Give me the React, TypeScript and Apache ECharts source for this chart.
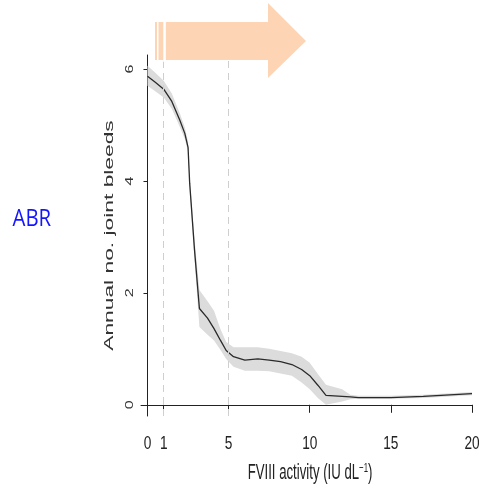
import React, { useEffect, useRef } from "react";
import * as echarts from "echarts";

const xs = [0, 0.5, 1, 1.5, 2, 2.3, 2.5, 2.6, 2.9, 3.2, 3.7, 4.1, 4.5, 4.85, 5.3, 6, 6.8, 7.5, 8.2, 8.9, 9.5, 10, 10.5, 11, 12, 12.5, 13, 15, 17, 20];
const meanVals = [5.87, 5.76, 5.64, 5.42, 5.08, 4.85, 4.6, 3.96, 2.76, 1.72, 1.55, 1.36, 1.15, 0.97, 0.86, 0.8, 0.82, 0.8, 0.77, 0.72, 0.63, 0.52, 0.35, 0.17, 0.15, 0.14, 0.13, 0.13, 0.15, 0.2];
const lowerVals = [5.7, 5.6, 5.49, 5.29, 4.96, 4.75, 4.52, 3.86, 2.6, 1.39, 1.25, 1.15, 0.98, 0.82, 0.68, 0.61, 0.61, 0.6, 0.56, 0.52, 0.4, 0.28, 0.12, 0.0, 0.06, 0.1, 0.11, 0.11, 0.12, 0.17];
const upperVals = [6.06, 5.93, 5.79, 5.56, 5.2, 4.96, 4.7, 4.06, 2.95, 2.05, 1.85, 1.68, 1.35, 1.12, 1.03, 1.03, 1.03, 1.0, 0.96, 0.92, 0.86, 0.75, 0.55, 0.36, 0.28, 0.18, 0.16, 0.16, 0.18, 0.23];
const xTicks = [0, 1, 5, 10, 15, 20];
const yTicks = [0, 2, 4, 6];
const refLines = [1, 5];
const xTitle = "FVIII activity (IU dL";
const yTitle = "Annual no. joint bleeds";
const sideLabel = "ABR";

export default function App() {
  const ref = useRef<HTMLDivElement>(null);
  useEffect(() => {
    if (!ref.current) return;
    const chart = echarts.init(ref.current, null, { renderer: "svg" });
    const sans = "'Liberation Sans', Arial, sans-serif";
    const option: any = {
      animation: false,
      grid: { left: 141, right: 7, top: 55, bottom: 79 },
      xAxis: {
        type: "value",
        min: -0.4,
        max: 20,
        splitLine: { show: false },
        axisLine: { show: true, lineStyle: { color: "#222", width: 1 } },
        axisTick: { show: true, length: 8, customValues: xTicks, lineStyle: { color: "#222" } },
        axisLabel: { show: false },
      },
      yAxis: {
        type: "value",
        min: -0.2,
        max: 6.25,
        splitLine: { show: false },
        axisLine: { show: true, lineStyle: { color: "#222", width: 1 } },
        axisTick: { show: true, length: 4, customValues: yTicks, lineStyle: { color: "#222" } },
        axisLabel: { show: false },
      },
      series: [
        {
          type: "custom",
          silent: true,
          data: [0],
          renderItem: (params: any, api: any) => {
            const pts: number[][] = [];
            for (let i = 0; i < xs.length; i++) pts.push(api.coord([xs[i], upperVals[i]]));
            for (let i = xs.length - 1; i >= 0; i--) pts.push(api.coord([xs[i], lowerVals[i]]));
            return { type: "polygon", shape: { points: pts }, style: { fill: "#dcdcdc", stroke: "none" } };
          },
          z: 1,
        },
        {
          type: "line",
          data: xs.map((x, i) => [x, meanVals[i]]),
          showSymbol: false,
          lineStyle: { color: "#2a2a2a", width: 1.3 },
          z: 3,
          markLine: {
            silent: true,
            symbol: "none",
            label: { show: false },
            lineStyle: { color: "#cfcfcf", type: [7, 5], width: 1 },
            data: refLines.map((v) => ({ xAxis: v })),
          },
        },
      ],
    };
    chart.setOption(option);

    const tickTexts: any[] = [];
    xTicks.forEach((v) => {
      const px = chart.convertToPixel({ xAxisIndex: 0 }, v) as number;
      tickTexts.push({
        type: "text",
        x: px,
        y: 442.5,
        scaleX: 0.74,
        style: { text: String(v), fontSize: 18.5, fontFamily: sans, fill: "#222", align: "center", verticalAlign: "middle" },
      });
    });
    yTicks.forEach((v) => {
      const py = chart.convertToPixel({ yAxisIndex: 0 }, v) as number;
      tickTexts.push({
        type: "text",
        x: 129,
        y: py,
        rotation: Math.PI / 2,
        scaleX: 1.4,
        style: { text: String(v), fontSize: 11.5, fontFamily: sans, fill: "#333", align: "center", verticalAlign: "middle" },
      });
    });

    chart.setOption({
      graphic: [
        {
          type: "polygon",
          shape: { points: [[155, 22], [268, 22], [268, 3], [306, 41], [268, 78], [268, 60], [155, 60]] },
          style: { fill: "#fdd5b4" },
          z: 10,
        },
        { type: "rect", shape: { x: 157, y: 20, width: 1.5, height: 42 }, style: { fill: "#fff" }, z: 11 },
        { type: "rect", shape: { x: 163.3, y: 20, width: 2.5, height: 42 }, style: { fill: "#fff" }, z: 11 },
        ...tickTexts,
        {
          type: "text",
          x: 109.5,
          y: 235.5,
          rotation: Math.PI / 2,
          scaleX: 1.9,
          style: { text: yTitle, fontSize: 12, fontFamily: sans, fill: "#333", align: "center", verticalAlign: "middle" },
        },
        {
          type: "text",
          x: 310,
          y: 472,
          scaleX: 0.6,
          style: {
            text: "{a|" + xTitle + "}{s|−1}{a|)}",
            align: "center",
            verticalAlign: "middle",
            rich: {
              a: { fontSize: 22, fontFamily: sans, fill: "#222" },
              s: { fontSize: 13, fontFamily: sans, fill: "#222", verticalAlign: "top", padding: [0, 0, 10, 0] },
            },
          },
        },
        {
          type: "text",
          x: 12.5,
          y: 216.5,
          scaleX: 0.85,
          style: { text: sideLabel, fontSize: 24, fontFamily: "'Open Sans', 'Noto Sans', sans-serif", fill: "#1414ff", verticalAlign: "middle" },
        },
      ],
    });
    return () => chart.dispose();
  }, []);
  return <div ref={ref} style={{ width: 479, height: 495, position: "fixed", left: 0, top: 0 }} />;
}
